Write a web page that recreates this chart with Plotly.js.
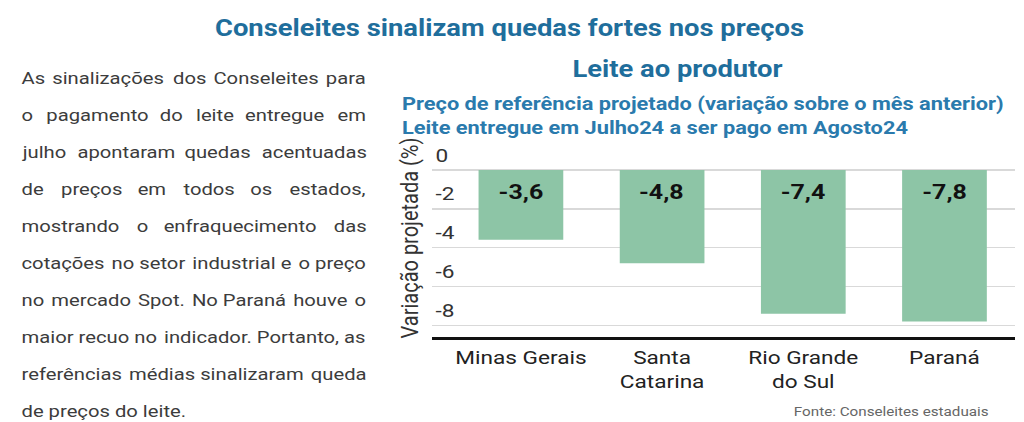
<!DOCTYPE html>
<html>
<head>
<meta charset="utf-8">
<script src="https://cdn.plot.ly/plotly-3.0.1.min.js"></script>
<style>
html,body{margin:0;padding:0;background:#fff;overflow:hidden;}
#wrap{width:1024px;height:422px;overflow:hidden;}
#chart{height:422px;transform-origin:0 0;}
</style>
</head>
<body>
<div id="wrap"><div id="chart"></div></div>
<script>
// ---- data ----
const categories = ["Minas Gerais", "Santa<br>Catarina", "Rio Grande<br>do Sul", "Paraná"];
const values = [-3.6, -4.8, -7.4, -7.8];
const yTickVals = [0, -2, -4, -6, -8];
const yTickText = ["0", "-2", "-4", "-6", "-8"];
const paragraphLines = [
  "As sinalizações dos Conseleites para",
  "o pagamento do leite entregue em",
  "julho apontaram quedas acentuadas",
  "de preços em todos os estados,",
  "mostrando o enfraquecimento das",
  "cotações no setor industrial e o preço",
  "no mercado Spot. No Paraná houve o",
  "maior recuo no indicador. Portanto, as",
  "referências médias sinalizaram queda",
  "de preços do leite."
];
const titleText = "Conseleites sinalizam quedas fortes nos preços";
const chartTitle = "Leite ao produtor";
const subtitleLines = [
  "Preço de referência projetado (variação sobre o mês anterior)",
  "Leite entregue em Julho24 a ser pago em Agosto24"
];
const yTitle = "Variação projetada (%)";
const sourceText = "Fonte: Conseleites estaduais";

// ---- geometry (the reference is horizontally stretched, reproduce with scaleX) ----
const S = 1.19;
const W = 1024, H = 422;
const W0 = W / S;
const M = {l: 432 / S, r: 9 / S, t: 168, b: 85};
const PW = W0 - M.l - M.r, PH = H - M.t - M.b;
const px = x => (x / S - M.l) / PW;   // final pixel x -> paper
const py = y => (H - M.b - y) / PH;   // final pixel y -> paper

const chartDiv = document.getElementById('chart');
chartDiv.style.width = W0 + 'px';
chartDiv.style.transform = 'scaleX(' + S + ')';

// justify paragraph lines (all but last) to the column width
const PARA_FONT = 17, PARA_FAMILY = 'Roboto';
const ctx = document.createElement('canvas').getContext('2d');
ctx.font = PARA_FONT + 'px ' + PARA_FAMILY;
const colWidth = 345 / S;
const fillers = ['\u200A', '\u2009', '\u00A0'];
let filler = '\u00A0', fw = ctx.measureText('\u00A0').width;
for (const f of fillers) { const w = ctx.measureText(f).width; if (w > 0.3) { filler = f; fw = w; break; } }
function justify(line) {
  const words = line.split(' ');
  const gaps = words.length - 1;
  const deficit = colWidth - ctx.measureText(line).width;
  if (gaps < 1 || deficit <= 0) return line;
  const total = Math.round(deficit / fw);
  let out = words[0];
  for (let g = 0; g < gaps; g++) {
    const n = Math.round(total * (g + 1) / gaps) - Math.round(total * g / gaps);
    out += ' ' + filler.repeat(n) + words[g + 1];
  }
  return out;
}

const annotations = [];
paragraphLines.forEach((line, i) => {
  const txt = i < paragraphLines.length - 1 ? justify(line) : line;
  annotations.push({
    text: txt, xref: 'paper', yref: 'paper',
    x: px(19), y: py(78 + i * 37), xanchor: 'left', yanchor: 'middle',
    showarrow: false, font: {family: PARA_FAMILY, size: PARA_FONT, color: '#3c3c3c'}
  });
});
annotations.push({
  text: chartTitle, xref: 'paper', yref: 'paper', x: px(678), y: py(70),
  xanchor: 'center', yanchor: 'middle', showarrow: false,
  font: {family: 'Roboto', size: 23, color: '#1f6e9c', weight: 700}
});
subtitleLines.forEach((line, i) => {
  annotations.push({
    text: line, xref: 'paper', yref: 'paper', x: px(400), y: py(104 + i * 24),
    xanchor: 'left', yanchor: 'middle', showarrow: false,
    font: {family: 'Roboto', size: 18.3, color: '#2a7aad', weight: 700}
  });
});
annotations.push({
  text: yTitle, xref: 'paper', yref: 'paper', x: px(410), y: py(238),
  xanchor: 'center', yanchor: 'middle', textangle: -90, showarrow: false,
  font: {family: 'Roboto', size: 20, color: '#333'}
});
annotations.push({
  text: sourceText, xref: 'paper', yref: 'paper', x: px(991), y: py(411),
  xanchor: 'right', yanchor: 'middle', showarrow: false,
  font: {family: 'Roboto', size: 12.8, color: '#666'}
});
// value labels inside the bars, just under the zero baseline
categories.forEach((c, i) => {
  annotations.push({
    text: values[i].toFixed(1).replace('.', ','), xref: 'x', yref: 'y',
    x: c, y: 0, yshift: -22, xanchor: 'center', yanchor: 'middle', showarrow: false,
    font: {family: 'Roboto', size: 21, color: '#111', weight: 700}
  });
});

const trace = {
  type: 'bar', x: categories, y: values,
  width: 0.6,
  marker: {color: '#8dc5a6'},
  hoverinfo: 'none'
};

const layout = {
  width: W0, height: H,
  margin: M,
  paper_bgcolor: '#fff', plot_bgcolor: '#fff',
  showlegend: false,
  title: {
    text: titleText, xref: 'container', yref: 'container',
    x: 509.5 / W, y: 1 - 28 / H, xanchor: 'center', yanchor: 'middle',
    font: {family: 'Roboto', size: 23, color: '#1f6e9c', weight: 700}
  },
  xaxis: {
    type: 'category', range: [-0.63, 3.5],
    showline: true, linecolor: '#111', linewidth: 3,
    showgrid: false, zeroline: false, ticks: '',
    tickfont: {family: 'Roboto', size: 19, color: '#222'},
    ticklabelstandoff: 1
  },
  yaxis: {
    range: [-8.6, 0.1],
    tickvals: yTickVals, ticktext: yTickText,
    showgrid: true, gridcolor: '#d9d9d9', gridwidth: 1.5,
    zeroline: false, showline: false, ticks: '',
    ticklabelposition: 'inside', ticklabelshift: -15, ticklabelstandoff: 0,
    ticklabeloverflow: 'allow',
    tickfont: {family: 'Roboto', size: 19, color: '#333'}
  },
  annotations: annotations
};

Plotly.newPlot(chartDiv, [trace], layout, {staticPlot: true, displayModeBar: false});
</script>
</body>
</html>
